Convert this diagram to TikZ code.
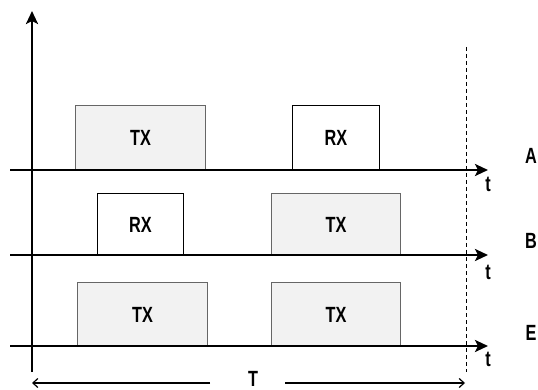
\documentclass[tikz,border=0pt]{standalone}
\usepackage{fontspec}
\setmainfont{Liberation Sans}
\newfontfamily\lblfont[FakeStretch=0.74]{Liberation Sans}
\usetikzlibrary{arrows.meta}
\begin{document}
\begin{tikzpicture}[x=1pt,y=-1pt,
  axisline/.style={line width=2.6pt, -{Stealth[length=13pt,width=12pt,inset=3pt]}},
  periodarrow/.style={line width=1.2pt, -{Straight Barb[length=5pt,width=9pt]}},
  lbl/.style={inner sep=0pt, font=\lblfont\bfseries\fontsize{22pt}{22pt}\selectfont},
  slot/.style={lbl, anchor=north west, line width=1pt},
  txbox/.style={slot, draw=black!60, fill=black!5},
  rxbox/.style={slot, draw=black, fill=white},
]
\useasboundingbox (0,0) rectangle (538,390);

% boxes
\node[txbox, minimum width=130pt, minimum height=65pt] (atx) at (75,105) {TX};
\node[rxbox, minimum width=87pt, minimum height=65pt] (arx) at (292,105) {RX};
\node[rxbox, minimum width=86pt, minimum height=62pt] (brx) at (97,193) {RX};
\node[txbox, minimum width=129pt, minimum height=62pt] (btx) at (271,193) {TX};
\node[txbox, minimum width=130pt, minimum height=64pt] (etx1) at (77,282) {TX};
\node[txbox, minimum width=129pt, minimum height=64pt] (etx2) at (271,282) {TX};

% dashed period end
\coordinate (dtop) at (466,47);
\coordinate (dbot) at (466,372);
\draw[line width=0.9pt, dash pattern=on 4pt off 3pt] (dtop) -- (dbot);

% time lines
\coordinate (as) at (10,170); \coordinate (ae) at (488,170);
\coordinate (bs) at (10,255); \coordinate (be) at (488,255);
\coordinate (es) at (10,346); \coordinate (ee) at (488,346);
\draw[axisline] (as) -- (ae);
\draw[axisline] (bs) -- (be);
\draw[axisline] (es) -- (ee);

% vertical axis
\coordinate (vs) at (32,372); \coordinate (ve) at (32,11);
\draw[axisline] (vs) -- (ve);

% t labels
\node[lbl] (ta) at (488,184) {t};
\node[lbl] (tb) at (488,272) {t};
\node[lbl] (te) at (488,359) {t};

% row labels
\node[lbl] (la) at (531,156) {A};
\node[lbl] (lb) at (531,241) {B};
\node[lbl] (le) at (531,333) {E};

% period T
\node[lbl, anchor=base] (tt) at (253,386) {T};
\coordinate (pl) at (32,383); \coordinate (pr) at (465,383);
\coordinate (plstart) at (210,383); \coordinate (prstart) at (285,383);
\draw[periodarrow] (plstart) -- (pl);
\draw[periodarrow] (prstart) -- (pr);
\end{tikzpicture}
\end{document}
